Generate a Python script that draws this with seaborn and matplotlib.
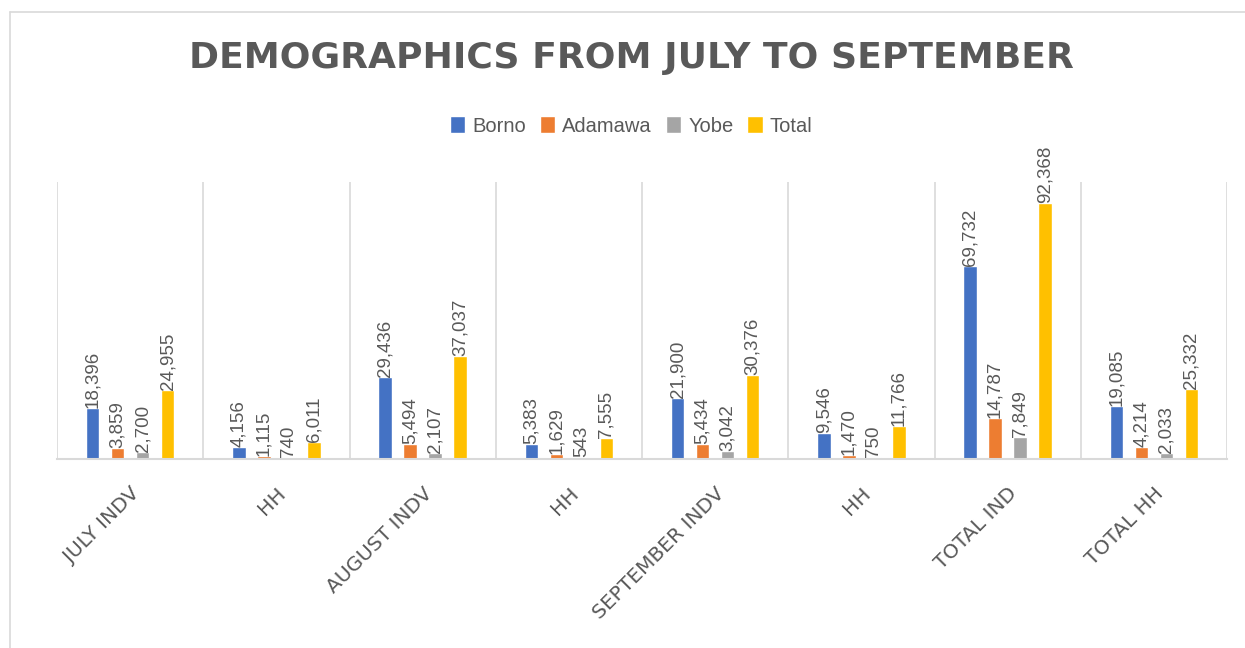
import matplotlib
matplotlib.use("Agg")
import matplotlib.pyplot as plt
from matplotlib.lines import Line2D
import seaborn as sns
import pandas as pd

# Data
categoryKeys = ["JULY INDV", "JULY HH", "AUGUST INDV", "AUGUST HH",
                "SEPTEMBER INDV", "SEPTEMBER HH", "TOTAL IND", "TOTAL HH"]
tickLabels = ["JULY INDV", "HH", "AUGUST INDV", "HH",
              "SEPTEMBER INDV", "HH", "TOTAL IND", "TOTAL HH"]
seriesNames = ["Borno", "Adamawa", "Yobe", "Total"]
borno = [18396, 4156, 29436, 5383, 21900, 9546, 69732, 19085]
adamawa = [3859, 1115, 5494, 1629, 5434, 1470, 14787, 4214]
yobe = [2700, 740, 2107, 543, 3042, 750, 7849, 2033]
total = [24955, 6011, 37037, 7555, 30376, 11766, 92368, 25332]

colors = ["#4472C4", "#ED7D31", "#A5A5A5", "#FFC000"]
textGray = "#595959"
lineGray = "#D9D9D9"

# Long form table for seaborn
rows = []
for name, vals in zip(seriesNames, [borno, adamawa, yobe, total]):
    for cat, v in zip(categoryKeys, vals):
        rows.append({"category": cat, "series": name, "value": v})
df = pd.DataFrame(rows)

sns.set_style("white")
plt.rcParams['font.family'] = ['Liberation Sans', 'DejaVu Sans']

fig = plt.figure(figsize=(12.45, 6.48), dpi=100)
ax = fig.add_axes([57/1245, 189/648, 1170/1245, 277/648])

sns.barplot(data=df, x="category", y="value", hue="series", order=categoryKeys,
            hue_order=seriesNames, palette=colors, width=0.685, gap=0.46,
            saturation=1, errorbar=None, ax=ax)

# Rotated value labels on top of bars
for cont in ax.containers:
    ax.bar_label(cont, fmt="{:,.0f}", rotation=90, padding=0,
                 color=textGray, fontsize=13.5)

ax.set_ylim(0, 100000)
ax.set_xlim(-0.5, len(categoryKeys) - 0.5)
ax.set_yticks([])
ax.set_xlabel("")
ax.set_ylabel("")

# Vertical separators between categories
for i in range(len(categoryKeys) + 1):
    ax.axvline(i - 0.5, color=lineGray, lw=1.2, zorder=0)

for side in ["top", "left", "right"]:
    ax.spines[side].set_visible(False)
ax.spines["bottom"].set_color(lineGray)
ax.spines["bottom"].set_linewidth(1.5)

ax.set_xticks(range(len(categoryKeys)))
ax.set_xticklabels(tickLabels, rotation=45, ha="right", rotation_mode="anchor",
                   color=textGray, fontsize=14.5)
for lbl in ax.get_xticklabels():
    lbl.set_fontfamily("DejaVu Sans")
ax.tick_params(axis="x", length=0, pad=18)

# Legend on top
handles, labels = ax.get_legend_handles_labels()
ax.legend(handles, labels, loc="center", bbox_to_anchor=(0.507, 1 - 126/648),
          bbox_transform=fig.transFigure, ncol=4, frameon=False,
          handlelength=0.75, handleheight=0.9, handletextpad=0.35,
          columnspacing=0.7, fontsize=14.5, labelcolor=textGray)

fig.text(0.507, 1 - 58/648, "DEMOGRAPHICS FROM JULY TO SEPTEMBER",
         ha="center", va="center", fontsize=26, fontweight="bold",
         color=textGray, family="DejaVu Sans")

# Chart frame edges
fig.add_artist(Line2D([10/1245, 10/1245], [0, 1 - 12/648], color=lineGray,
                      lw=1.2, transform=fig.transFigure))
fig.add_artist(Line2D([10/1245, 1], [1 - 12/648, 1 - 12/648], color=lineGray,
                      lw=1.2, transform=fig.transFigure))

fig.savefig("out.png", dpi=100)
